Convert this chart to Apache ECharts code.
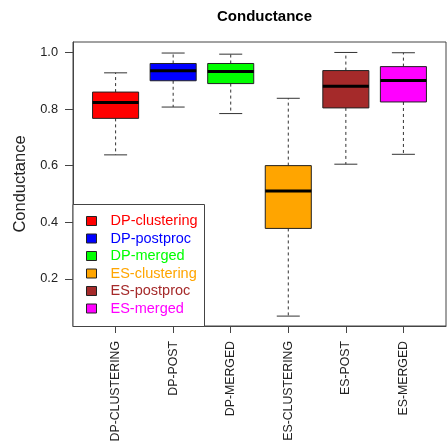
<!DOCTYPE html>
<html><head><meta charset="utf-8">
<script src="https://cdn.jsdelivr.net/npm/echarts@6/dist/echarts.min.js"></script>
<style>html,body{margin:0;padding:0;background:#fff}#c{width:447px;height:445px}</style>
</head><body><div id="c"></div>
<script>
const categories = ['DP-CLUSTERING','DP-POST','DP-MERGED','ES-CLUSTERING','ES-POST','ES-MERGED'];
const legendNames = ['DP-clustering','DP-postproc','DP-merged','ES-clustering','ES-postproc','ES-merged'];
const colors = ['#ff0000','#0000ff','#00ff00','#ffa500','#a52a2a','#ff00ff'];
// [lower whisker, Q1, median, Q3, upper whisker]
const lowerWhisker = [0.638, 0.807, 0.784, 0.068, 0.605, 0.640];
const q1 = [0.767, 0.900, 0.890, 0.378, 0.804, 0.825];
const median = [0.823, 0.935, 0.933, 0.510, 0.881, 0.901];
const q3 = [0.860, 0.961, 0.961, 0.600, 0.936, 0.950];
const upperWhisker = [0.928, 0.998, 0.994, 0.838, 1.000, 0.999];
const yTicks = [0.2, 0.4, 0.6, 0.8, 1.0];

const chart = echarts.init(document.getElementById('c'), null, {renderer:'canvas'});
const FONT = 'Liberation Sans, Arial, sans-serif';

function renderBox(params, api) {
  const x = api.value(0);
  const pLow = api.coord([x, api.value(1)]);
  const pQ1 = api.coord([x, api.value(2)]);
  const pMed = api.coord([x, api.value(3)]);
  const pQ3 = api.coord([x, api.value(4)]);
  const pHigh = api.coord([x, api.value(5)]);
  const w = api.size([0.8, 0])[0];
  const cx = pMed[0];
  const fill = api.visual('color');
  const dash = {stroke:'#333', lineWidth:1, lineDash:[3,3]};
  const solid = {stroke:'#333', lineWidth:1};
  return {type:'group', children:[
    {type:'line', shape:{x1:cx,y1:pQ3[1],x2:cx,y2:pHigh[1]}, style:dash},
    {type:'line', shape:{x1:cx,y1:pQ1[1],x2:cx,y2:pLow[1]}, style:dash},
    {type:'line', shape:{x1:cx-w/4,y1:pHigh[1],x2:cx+w/4,y2:pHigh[1]}, style:solid},
    {type:'line', shape:{x1:cx-w/4,y1:pLow[1],x2:cx+w/4,y2:pLow[1]}, style:solid},
    {type:'rect', shape:{x:cx-w/2,y:pQ3[1],width:w,height:pQ1[1]-pQ3[1]}, style:{fill:fill, stroke:'#222', lineWidth:1}},
    {type:'line', shape:{x1:cx-w/2,y1:pMed[1],x2:cx+w/2,y2:pMed[1]}, style:{stroke:'#000', lineWidth:3}}
  ]};
}

const series = categories.map((c, i) => ({
  type:'custom',
  name: legendNames[i],
  itemStyle:{color: colors[i]},
  renderItem: renderBox,
  encode:{x:0, y:[1,2,3,4,5]},
  data:[[i+1, lowerWhisker[i], q1[i], median[i], q3[i], upperWhisker[i]]],
  animation:false,
  z:2
}));

chart.setOption({
  animation:false,
  backgroundColor:'#fff',
  title:{text:'Conductance', left:212, top:4,
    textStyle:{fontFamily:FONT, fontSize:15, fontWeight:'bold', color:'#000'}},
  grid:{left:73, top:42, right:1, bottom:119, containLabel:false,
    show:true, borderColor:'#444', borderWidth:1},
  graphic:[{type:'rect', left:72.5, top:204, z:5,
    shape:{width:131.5, height:122}, style:{fill:'#fff', stroke:'#444', lineWidth:1}}],
  legend:{
    orient:'vertical', left:72.5, top:204, align:'left', z:10,
    padding:[9, 6, 9, 13.5],
    itemWidth:10, itemHeight:9, itemGap:1.5,
    icon:'rect',
    formatter:(n)=>'{a|' + n + '}',
    textStyle:{fontFamily:FONT, fontSize:14.5, lineHeight:16,
      rich:{a:{fontFamily:FONT, fontSize:14.5, lineHeight:16, padding:[0,0,0,9]}}},
    data: legendNames.map((n,i)=>({name:n, itemStyle:{borderColor:'#222', borderWidth:1},
      textStyle:{color:colors[i]}})),
    selectedMode:false
  },
  xAxis:{type:'value', min:0.26, max:6.74,
    axisLine:{show:true, onZero:false, lineStyle:{color:'#444'}},
    splitLine:{show:false},
    axisTick:{show:true, customValues:[1,2,3,4,5,6], length:7, lineStyle:{color:'#444'}},
    axisLabel:{customValues:[1,2,3,4,5,6], rotate:90, margin:15,
      fontFamily:FONT, fontSize:12.3, color:'#222',
      formatter:(v)=>categories[Math.round(v)-1] || ''}
  },
  yAxis:{type:'value', min:0.033, max:1.037,
    name:'Conductance', nameLocation:'middle', nameGap:43,
    nameTextStyle:{fontFamily:FONT, fontSize:16.5, color:'#222'},
    axisLine:{show:true, lineStyle:{color:'#444'}},
    splitLine:{show:false},
    axisTick:{show:true, customValues:yTicks, length:8, lineStyle:{color:'#444'}},
    axisLabel:{customValues:yTicks, margin:15, fontFamily:FONT, fontSize:12.8, color:'#222',
      formatter:(v)=>v.toFixed(1)}
  },
  series: series
});
</script></body></html>
